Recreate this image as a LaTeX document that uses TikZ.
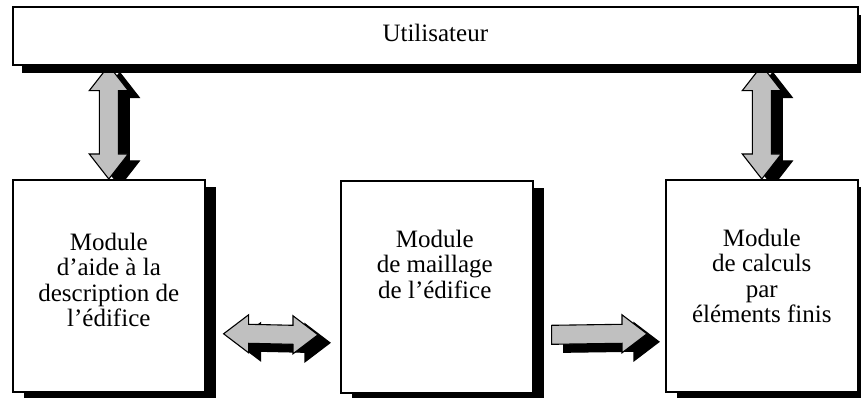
\documentclass[tikz,border=0pt]{standalone}
\usepackage{fontspec}
\setmainfont{Liberation Serif}
\usetikzlibrary{calc,shadows}
\pgfdeclarelayer{bg}
\pgfsetlayers{bg,main}
\definecolor{arrowgray}{HTML}{C0C0C0}
\newcommand{\vdblarrow}[3]{%
  \path[#3] (#1) -- ++(19.5,25) -- ++(-10,0) -- ($(#2)+(9.5,-25)$) -- ++(10,0)
    -- (#2) -- ++(-19.5,-25) -- ++(10,0) -- ($(#1)+(-9.5,25)$) -- ++(-10,0) -- cycle;}
\newcommand{\hdblarrow}[3]{%
  \path[#3] (#1) -- ++(25,-19) -- ++(0,9.5) -- ($(#2)+(-25,-9.5)$) -- ++(0,-9.5)
    -- (#2) -- ++(-25,19) -- ++(0,-9.5) -- ($(#1)+(25,9.5)$) -- ++(0,9.5) -- cycle;}
\newcommand{\hsglarrow}[3]{%
  \path[#3] ($(#1)+(0,-9.5)$) -- ($(#2)+(-25,-9.5)$) -- ++(0,-9.5)
    -- (#2) -- ++(-25,19) -- ++(0,-9.5) -- ($(#1)+(0,9.5)$) -- cycle;}
\begin{document}
\begin{tikzpicture}[x=1pt,y=-1pt,
  box/.style={draw, line width=1.6pt, fill=white, inner sep=0pt, anchor=north west},
  modbox/.style={box, minimum width=192pt, minimum height=212pt,
    drop shadow={opacity=1, fill=black, shadow xshift=11pt, shadow yshift=-7pt}},
  userbox/.style={box, minimum width=845pt, minimum height=58pt,
    text height=18pt, text depth=6pt, font=\fontsize{25}{25.5}\selectfont,
    drop shadow={opacity=1, fill=black, shadow xshift=9pt, shadow yshift=-8pt}},
  txt/.style={font=\fontsize{25}{25.5}\selectfont, inner sep=0pt, anchor=base},
  garrow/.style={fill=arrowgray, draw=black, line width=1.1pt, line join=miter},
  sarrow/.style={fill=black, draw=black, line width=1.1pt, line join=miter}]
\useasboundingbox (0,0) rectangle (861,398);
% boxes
\node[userbox] (user) at (12,6) {Utilisateur};
\node[modbox] (b1) at (12,179) {};
\node[modbox] (b2) at (340,180) {};
\node[modbox] (b3) at (665,179) {};
% texts
\node[txt] (t1) at ($(b1.north)+(0,71)$)
  {\begin{tabular}[t]{@{}c@{}}Module\\ d’aide à la\\ description de\\ l’édifice\end{tabular}};
\node[txt] (t2) at ($(b2.north)+(-2,67)$)
  {\begin{tabular}[t]{@{}c@{}}Module\\ de maillage\\ de l’édifice\end{tabular}};
\node[txt] (t3) at ($(b3.north)+(0,67)$)
  {\begin{tabular}[t]{@{}c@{}}Module\\ de calculs\\ par\\ éléments finis\end{tabular}};
% connector end points
\coordinate (v1a) at (user.south -| b1.north);
\coordinate (v1b) at (b1.north);
\coordinate (v3a) at (user.south -| b3.north);
\coordinate (v3b) at (b3.north);
\coordinate (d1) at ($(b1.east)+(18,48)$);
\coordinate (d2) at ($(b2.west)+(-22,48)$);
\coordinate (s1) at ($(b2.east)+(18,48)$);
\coordinate (s2) at ($(b3.west)+(-18,48)$);
% block arrows, behind the boxes
\begin{pgfonlayer}{bg}
  \fill[white] (0,0) rectangle (861,398);
  \begin{scope}[transform canvas={shift={(11pt,-7pt)}}]
    \vdblarrow{v1a}{v1b}{sarrow}
    \vdblarrow{v3a}{v3b}{sarrow}
  \end{scope}
  \vdblarrow{v1a}{v1b}{garrow}
  \vdblarrow{v3a}{v3b}{garrow}
  \begin{scope}[transform canvas={shift={(12pt,-8pt)}}]
    \hdblarrow{d1}{d2}{sarrow}
    \hsglarrow{s1}{s2}{sarrow}
  \end{scope}
  \hdblarrow{d1}{d2}{garrow}
  \hsglarrow{s1}{s2}{garrow}
\end{pgfonlayer}
\end{tikzpicture}
\end{document}
